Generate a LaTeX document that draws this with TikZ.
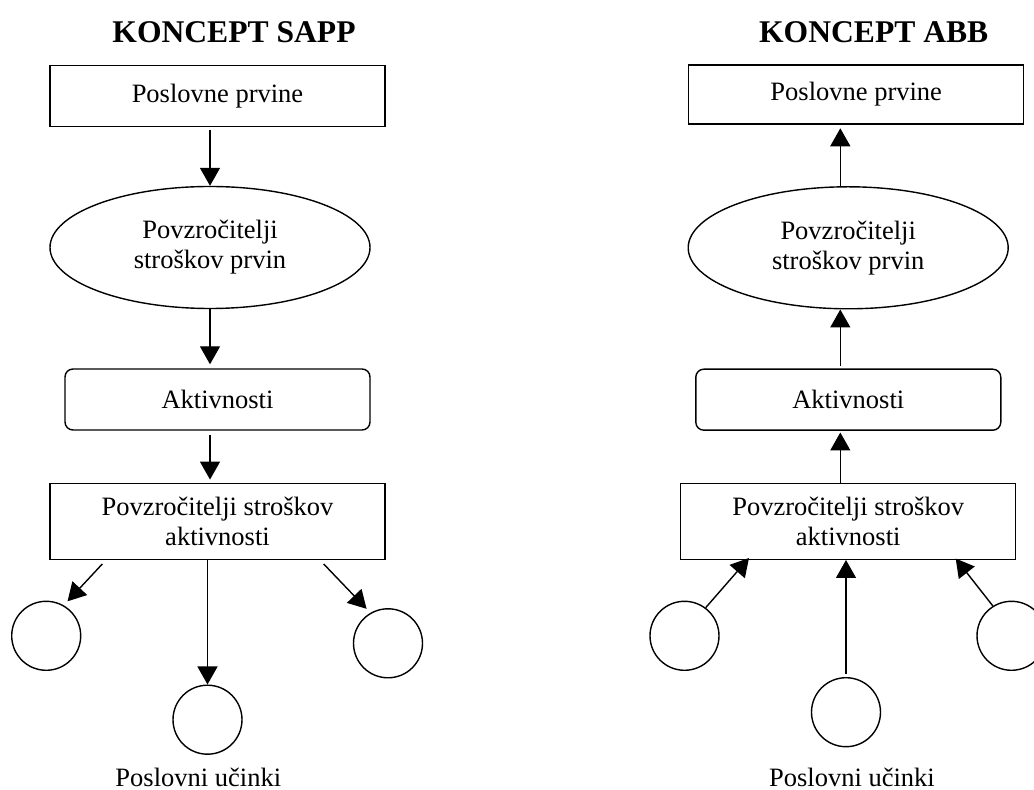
\documentclass[tikz,border=0pt]{standalone}
\usepackage{fontspec}
\setmainfont{Liberation Serif}
\usepackage{tikz}
\usetikzlibrary{arrows.meta,shapes.geometric,positioning}
\tikzset{>={Triangle[width=10pt,length=9pt]}}

\begin{document}
\begin{tikzpicture}[x=0.5pt,y=-0.5pt,line width=0.7pt,
    every node/.style={font=\fontsize{13.25}{15}\selectfont,align=center,inner sep=0pt},
    box/.style={draw,minimum width=167.5pt,minimum height=30.5pt},
    rbox/.style={draw,rounded corners=4pt,minimum width=152.5pt,minimum height=30.5pt},
    ell/.style={draw,ellipse,minimum width=160pt,minimum height=61pt},
    circ/.style={draw,circle,minimum size=34.5pt},
    title/.style={font=\fontsize{15.8}{18}\selectfont\bfseries,anchor=base}]
        \useasboundingbox (0,0) rectangle (1034,790);
        % KONCEPT SAPP
        \node [title] (tl) at (234,43) {KONCEPT SAPP};
        \node [box] (pl) at (217.5,96) {Poslovne prvine};
        \node [ell] (el) at (210,247.5) {Povzročitelji\\stroškov prvin};
        \node [rbox] (al) at (217.5,399.5) {Aktivnosti};
        \node [box,minimum height=38pt] (sl) at (217.5,521.3) {Povzročitelji stroškov\\aktivnosti};
        \node [circ] (cl1) at (46.2,635.8) {};
        \node [circ] (cl2) at (207.5,719.7) {};
        \node [circ] (cl3) at (388,643.3) {};
        \node [anchor=base] (ul) at (198.3,787) {Poslovni učinki};
        \draw [->,shorten <=1.5pt] (el.north |- pl.south) -- (el.north);
        \draw [->,shorten >=2pt] (el.south) -- (el.south |- al.north);
        \draw [->,shorten <=2pt,shorten >=1.5pt] (el.south |- al.south) -- (el.south |- sl.north);
        \draw [->,shorten >=2.75pt] ([xshift=26.5pt,yshift=-2pt]sl.south west) -- (cl1.60);
        \draw [->] (cl2.north |- sl.south) -- (cl2.north);
        \draw [->,shorten >=2.75pt] ([xshift=-31pt,yshift=-2pt]sl.south east) -- (cl3.120);
        % KONCEPT ABB
        \node [title] (tr) at (873.7,43) {KONCEPT ABB};
        \node [box,minimum height=29.5pt] (pr) at (856.2,94.5) {Poslovne prvine};
        \node [ell] (er) at (848.2,247.8) {Povzročitelji\\stroškov prvin};
        \node [rbox] (ar) at (848.3,399.7) {Aktivnosti};
        \node [box,minimum height=38pt] (sr) at (848.2,521.3) {Povzročitelji stroškov\\aktivnosti};
        \node [circ] (cr1) at (684.5,635.8) {};
        \node [circ] (cr2) at (846,712.2) {};
        \node [circ] (cr3) at (1011.5,635.8) {};
        \node [anchor=base] (ur) at (852,787) {Poslovni učinki};
        \coordinate (axr) at (840.3,0);
        \draw [->,shorten >=1.8pt] (axr |- er.north) -- (axr |- pr.south);
        \draw [->,shorten <=1.3pt] (axr |- ar.north) -- (axr |- er.south);
        \draw [->,shorten >=0.8pt] (axr |- sr.north) -- (axr |- ar.south);
        \draw [->] (cr1.53) -- ([xshift=34.5pt,yshift=1pt]sr.south west);
        \draw [->,shorten <=1.7pt] (cr2.north) -- (cr2.north |- sr.south);
        \draw [->] (cr3.122) -- ([xshift=-30.35pt,yshift=0.7pt]sr.south east);
\end{tikzpicture}
\end{document}
